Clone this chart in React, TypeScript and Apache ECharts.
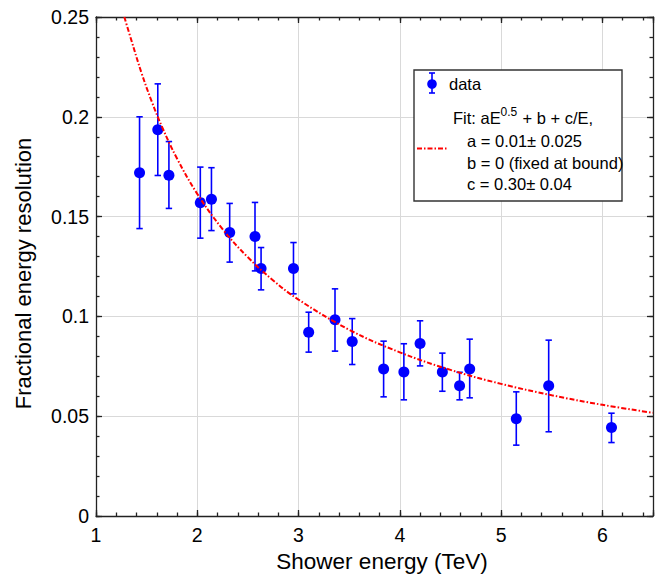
import React, { useEffect, useRef } from "react";
import * as echarts from "echarts";

// Data points (shower energy in TeV, fractional resolution, error bar bounds)
const energy = [1.43, 1.61, 1.72, 2.03, 2.14, 2.32, 2.57, 2.63, 2.95, 3.1, 3.36, 3.53, 3.84, 4.04, 4.2, 4.42, 4.59, 4.69, 5.15, 5.47, 6.09];
const resolution = [0.172, 0.1935, 0.1707, 0.157, 0.1587, 0.142, 0.14, 0.124, 0.124, 0.0921, 0.0983, 0.0874, 0.0737, 0.0722, 0.0864, 0.0722, 0.0652, 0.0737, 0.0487, 0.0652, 0.0443];
const errLow = [0.144, 0.1706, 0.1541, 0.1392, 0.143, 0.1272, 0.1228, 0.1133, 0.1113, 0.0821, 0.0826, 0.0759, 0.0597, 0.0582, 0.0752, 0.0625, 0.0582, 0.0592, 0.0355, 0.0422, 0.0368];
const errHigh = [0.2, 0.2165, 0.1876, 0.1748, 0.1745, 0.1566, 0.1571, 0.1345, 0.137, 0.1021, 0.1138, 0.0989, 0.0876, 0.0863, 0.0978, 0.0816, 0.072, 0.0886, 0.0622, 0.0881, 0.0515];

// Fit curve
const fitEnergy = [1.28, 1.35, 1.45, 1.55, 1.65, 1.8, 2.0, 2.25, 2.5, 2.75, 3.0, 3.5, 4.0, 4.5, 5.0, 5.5, 6.0, 6.5];
const fitValue = [0.25, 0.2382, 0.2219, 0.2077, 0.1952, 0.1791, 0.1614, 0.1437, 0.1296, 0.118, 0.1084, 0.0933, 0.082, 0.0732, 0.0662, 0.0605, 0.0557, 0.0517];

// Axis settings
const xMin = 1;
const xMax = 6.5;
const xStep = 1;
const xMinorStep = 0.2;
const yMin = 0;
const yMax = 0.25;
const yStep = 0.05;
const yMinorStep = 0.01;

const xTitle = "Shower energy (TeV)";
const yTitle = "Fractional energy resolution";
const legendData = "data";
const legendFitHead = ["Fit: aE", "0.5", " + b + c/E,"];
const legendFitLines = ["a = 0.01\u00b1 0.025", "b = 0 (fixed at bound)", "c = 0.30\u00b1 0.04"];

const FONT = "'Liberation Sans', Arial, Helvetica, sans-serif";
const AXIS_COLOR = "#222";
const BLUE = "#0000ff";
const RED = "#ff0000";

export default function App() {
  const ref = useRef<HTMLDivElement>(null);
  useEffect(() => {
    const chart = echarts.init(ref.current!, null, { renderer: "svg" });
    const axisLineStyle = { color: AXIS_COLOR, width: 1.3 };

    const xMain = {
      type: "value",
      min: xMin,
      max: xMax,
      interval: xStep,
      position: "bottom",
      axisLine: { show: true, onZero: false, lineStyle: axisLineStyle },
      axisTick: { show: true, inside: true, length: 6, lineStyle: axisLineStyle },
      axisLabel: {
        show: true,
        fontSize: 19.5,
        color: "#000",
        fontFamily: FONT,
        margin: 9,
        formatter: (v: number) => (Math.abs(v - Math.round(v)) < 1e-6 ? String(Math.round(v)) : ""),
      },
      splitLine: { show: true, lineStyle: { color: "#d9d9d9", width: 1 } },
      name: xTitle,
      nameLocation: "middle",
      nameGap: 33,
      nameTextStyle: { fontSize: 22.5, color: "#000", fontFamily: FONT, padding: [0, 0, 0, 15] },
    };
    const xTop = {
      type: "value",
      min: xMin,
      max: xMax,
      interval: xStep,
      position: "top",
      axisLine: { show: true, onZero: false, lineStyle: axisLineStyle },
      axisTick: { show: true, inside: true, length: 6, lineStyle: axisLineStyle },
      axisLabel: { show: false },
      splitLine: { show: false },
    };
    const xMinor = (pos: string) => ({
      type: "value",
      min: xMin,
      max: xMax,
      interval: xMinorStep,
      position: pos,
      axisLine: { show: false, onZero: false },
      axisTick: { show: true, inside: true, length: 3.5, lineStyle: axisLineStyle },
      axisLabel: { show: false },
      splitLine: { show: false },
    });

    const yMain = {
      type: "value",
      min: yMin,
      max: yMax,
      interval: yStep,
      position: "left",
      axisLine: { show: true, onZero: false, lineStyle: axisLineStyle },
      axisTick: { show: true, inside: true, length: 6, lineStyle: axisLineStyle },
      axisLabel: { show: true, fontSize: 19.5, color: "#000", fontFamily: FONT, margin: 7 },
      splitLine: { show: true, lineStyle: { color: "#d9d9d9", width: 1 } },
      name: yTitle,
      nameLocation: "middle",
      nameGap: 62,
      nameTextStyle: { fontSize: 22, color: "#000", fontFamily: FONT, padding: [0, 14, 0, 0] },
    };
    const yRight = {
      type: "value",
      min: yMin,
      max: yMax,
      interval: yStep,
      position: "right",
      axisLine: { show: true, onZero: false, lineStyle: axisLineStyle },
      axisTick: { show: true, inside: true, length: 6, lineStyle: axisLineStyle },
      axisLabel: { show: false },
      splitLine: { show: false },
    };
    const yMinor = (pos: string) => ({
      type: "value",
      min: yMin,
      max: yMax,
      interval: yMinorStep,
      position: pos,
      axisLine: { show: false, onZero: false },
      axisTick: { show: true, inside: true, length: 3.5, lineStyle: axisLineStyle },
      axisLabel: { show: false },
      splitLine: { show: false },
    });

    const errData = energy.map((e, i) => [e, errLow[i], errHigh[i]]);
    const pointData = energy.map((e, i) => [e, resolution[i]]);
    const fitData = fitEnergy.map((e, i) => [e, fitValue[i]]);

    const capHalf = 3.2;
    const errStyle = { stroke: BLUE, lineWidth: 1.6 };

    // Legend box geometry
    const lx = 414;
    const ly = 70;
    const lw = 208;
    const lh = 131;
    const LZ = 100;
    const textStyle = (t: string, size: number) => ({
      text: t,
      fontSize: size,
      fontFamily: FONT,
      fill: "#000",
      verticalAlign: "middle",
      align: "left",
    });

    const option: any = {
      animation: false,
      backgroundColor: "#fff",
      grid: { left: 96, top: 17, right: 12, bottom: 58, containLabel: false, outerBoundsMode: "none" },
      xAxis: [xMain, xTop, xMinor("bottom"), xMinor("top")],
      yAxis: [yMain, yRight, yMinor("left"), yMinor("right")],
      series: [
        {
          type: "custom",
          name: "errors",
          xAxisIndex: 0,
          yAxisIndex: 0,
          data: errData,
          encode: { x: 0, y: [1, 2] },
          z: 3,
          renderItem: (params: any, api: any) => {
            const x = api.value(0);
            const lo = api.coord([x, api.value(1)]);
            const hi = api.coord([x, api.value(2)]);
            return {
              type: "group",
              children: [
                { type: "line", shape: { x1: lo[0], y1: lo[1], x2: hi[0], y2: hi[1] }, style: errStyle },
                { type: "line", shape: { x1: hi[0] - capHalf, y1: hi[1], x2: hi[0] + capHalf, y2: hi[1] }, style: errStyle },
                { type: "line", shape: { x1: lo[0] - capHalf, y1: lo[1], x2: lo[0] + capHalf, y2: lo[1] }, style: errStyle },
              ],
            };
          },
        },
        {
          type: "scatter",
          name: "data",
          xAxisIndex: 0,
          yAxisIndex: 0,
          data: pointData,
          symbol: "circle",
          symbolSize: 11,
          itemStyle: { color: BLUE, opacity: 1 },
          z: 4,
        },
        {
          type: "line",
          name: "fit",
          xAxisIndex: 0,
          yAxisIndex: 0,
          data: fitData,
          smooth: 0.4,
          showSymbol: false,
          symbol: "none",
          clip: true,
          lineStyle: { color: RED, width: 2, type: [5, 2, 1.5, 2] },
          z: 5,
        },
      ],
      graphic: [
        {
          type: "rect",
          z: LZ,
          shape: { x: lx, y: ly, width: lw, height: lh },
          style: { fill: "#fff", stroke: "#333", lineWidth: 1.4 },
        },
        // data marker with error bar
        { type: "line", z: LZ + 1, shape: { x1: 432, y1: 73, x2: 432, y2: 93 }, style: errStyle },
        { type: "line", z: LZ + 1, shape: { x1: 429, y1: 73, x2: 435, y2: 73 }, style: errStyle },
        { type: "line", z: LZ + 1, shape: { x1: 429, y1: 93, x2: 435, y2: 93 }, style: errStyle },
        { type: "circle", z: LZ + 1, shape: { cx: 432, cy: 84, r: 4.8 }, style: { fill: BLUE } },
        { type: "text", z: LZ + 1, x: 449, y: 84, style: textStyle(legendData, 16.5) },
        // fit line sample
        {
          type: "line",
          z: LZ + 1,
          shape: { x1: 417, y1: 148.5, x2: 447, y2: 148.5 },
          style: { stroke: RED, lineWidth: 2, lineDash: [5, 2, 1.5, 2] },
        },
        { type: "text", z: LZ + 1, x: 453, y: 118, style: textStyle(legendFitHead[0], 16.5) },
        { type: "text", z: LZ + 1, x: 500.5, y: 112, style: textStyle(legendFitHead[1], 12) },
        { type: "text", z: LZ + 1, x: 518, y: 118, style: textStyle(legendFitHead[2], 16.5) },
        ...legendFitLines.map((t, i) => ({
          type: "text",
          z: LZ + 1,
          x: 467,
          y: 141 + i * 21.7,
          style: textStyle(t, 16.5),
        })),
      ],
    };

    chart.setOption(option);
    return () => chart.dispose();
  }, []);

  return (
    <div
      ref={ref}
      style={{ position: "fixed", left: 0, top: 0, width: 665, height: 574, background: "#fff" }}
    />
  );
}
